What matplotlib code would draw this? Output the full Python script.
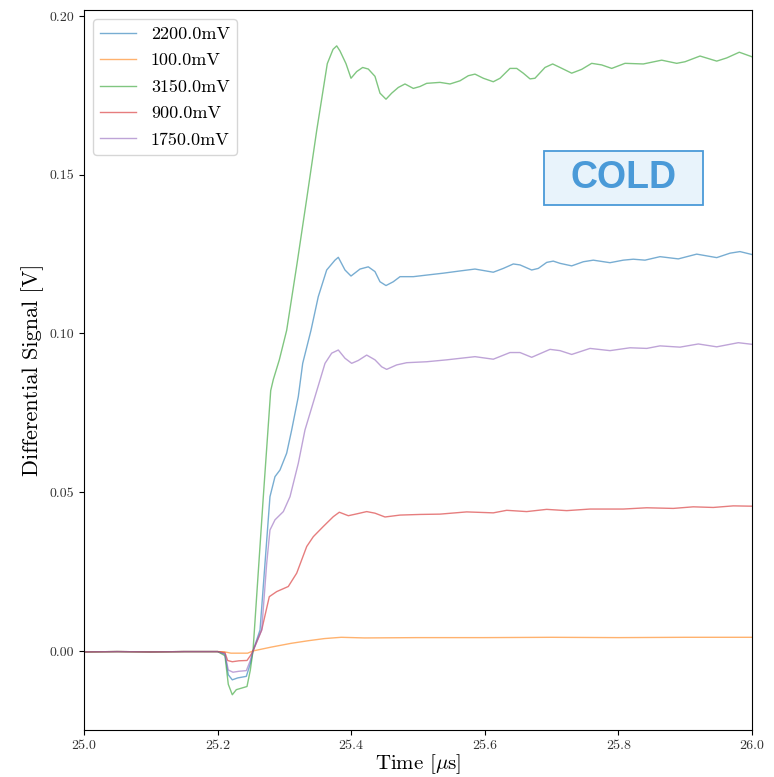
import matplotlib
matplotlib.use("Agg")
import matplotlib.pyplot as plt
from matplotlib.patches import Rectangle

plt.rcParams['font.family'] = 'serif'
plt.rcParams['font.serif'] = ['cmr10', 'DejaVu Serif']
plt.rcParams['mathtext.fontset'] = 'cm'
plt.rcParams['axes.formatter.use_mathtext'] = True

labels = ['2200.0mV', '100.0mV', '3150.0mV', '900.0mV', '1750.0mV']
colors = ['#1f77b4', '#ff7f0e', '#2ca02c', '#d62728', '#9467bd']

base_t = [25.0, 25.05, 25.1, 25.15, 25.2]
base_v = [-0.0003, -0.0002, -0.0003, -0.0002, -0.0002]

t_2200 = base_t + [25.211, 25.216, 25.222, 25.23, 25.243, 25.249, 25.253,
    25.2635, 25.271, 25.2784, 25.2859, 25.2934, 25.3034, 25.3109, 25.3208, 25.3274,
    25.3398, 25.3507, 25.3633, 25.3757, 25.3807, 25.3907, 25.3997, 25.4132, 25.4256,
    25.4356, 25.4431, 25.4521, 25.463, 25.4731, 25.493, 25.513, 25.5379, 25.5629,
    25.5853, 25.6127, 25.6277, 25.6427, 25.6527, 25.6702, 25.6801, 25.6927, 25.7025,
    25.7126, 25.7301, 25.7475, 25.7624, 25.7874, 25.8073, 25.8223, 25.8398, 25.8623,
    25.8897, 25.9172, 25.9472, 25.9671, 25.982, 25.9995]
v_2200 = base_v + [-0.001, -0.0075, -0.0091, -0.0085, -0.008, -0.004, 0.0,
    0.0066, 0.0277, 0.0486, 0.0549, 0.057, 0.0623, 0.0696, 0.0801, 0.0906,
    0.101, 0.1116, 0.12, 0.1231, 0.124, 0.12, 0.1181, 0.1203, 0.121,
    0.1195, 0.1163, 0.1151, 0.1163, 0.1179, 0.1179, 0.1184, 0.119, 0.1197,
    0.1203, 0.1193, 0.1205, 0.1219, 0.1216, 0.12, 0.1205, 0.1224, 0.1228,
    0.1221, 0.1213, 0.1226, 0.1231, 0.1223, 0.1231, 0.1234, 0.1231, 0.1242,
    0.1235, 0.125, 0.1239, 0.1253, 0.1258, 0.1249]

t_100 = base_t + [25.211, 25.22, 25.245, 25.253, 25.28, 25.31, 25.335, 25.36,
    25.385, 25.42, 25.5, 25.6, 25.7, 25.8, 25.9, 26.0]
v_100 = base_v + [-0.0003, -0.0007, -0.0007, 0.0, 0.0012, 0.0024, 0.0032, 0.0039,
    0.0043, 0.0041, 0.0042, 0.0042, 0.0043, 0.0042, 0.0043, 0.0043]

t_3150 = base_t + [25.211, 25.216, 25.222, 25.228, 25.236, 25.244, 25.249, 25.253,
    25.2684, 25.2795, 25.2834, 25.2924, 25.3034, 25.3189, 25.3338, 25.3484, 25.3642,
    25.3728, 25.3783, 25.3832, 25.3922, 25.3997, 25.4082, 25.4172, 25.4256, 25.4356,
    25.4431, 25.4521, 25.4606, 25.4705, 25.4805, 25.493, 25.503, 25.513, 25.5329,
    25.5479, 25.5629, 25.5753, 25.5853, 25.5978, 25.6127, 25.6228, 25.6377, 25.6478,
    25.6576, 25.6677, 25.6751, 25.6901, 25.7016, 25.7126, 25.7301, 25.745, 25.76,
    25.775, 25.79, 25.8099, 25.8373, 25.8648, 25.8873, 25.8997, 25.9222, 25.9472,
    25.9621, 25.981, 25.9995]
v_3150 = base_v + [-0.0015, -0.0105, -0.0138, -0.0122, -0.0117, -0.0112, -0.006, 0.0,
    0.0485, 0.082, 0.0855, 0.0917, 0.101, 0.122, 0.143, 0.164, 0.185,
    0.1895, 0.1906, 0.189, 0.185, 0.1804, 0.1825, 0.1838, 0.1833, 0.181,
    0.1757, 0.1738, 0.1757, 0.1775, 0.1786, 0.1772, 0.1778, 0.1788, 0.1791,
    0.1786, 0.1796, 0.1812, 0.1817, 0.1804, 0.1793, 0.1804, 0.1835, 0.1835,
    0.182, 0.1802, 0.1804, 0.1838, 0.1849, 0.1838, 0.182, 0.1832, 0.1851,
    0.1846, 0.1835, 0.1851, 0.1849, 0.1861, 0.1851, 0.1856, 0.1874, 0.1858,
    0.1868, 0.1886, 0.1872]

t_900 = base_t + [25.211, 25.215, 25.222, 25.232, 25.244, 25.249, 25.253,
    25.266, 25.2774, 25.2885, 25.3058, 25.3184, 25.3334, 25.3433, 25.3582, 25.3732,
    25.3822, 25.3957, 25.4087, 25.4232, 25.4356, 25.4506, 25.4731, 25.503, 25.5329,
    25.5729, 25.6127, 25.6328, 25.6627, 25.6926, 25.7226, 25.7575, 25.8073, 25.8424,
    25.8822, 25.9121, 25.942, 25.972, 25.9995]
v_900 = base_v + [-0.0005, -0.003, -0.0034, -0.0031, -0.003, -0.0015, 0.0,
    0.0066, 0.0171, 0.0187, 0.0203, 0.0245, 0.0329, 0.036, 0.0392, 0.0423,
    0.0437, 0.0426, 0.0432, 0.0439, 0.0434, 0.0422, 0.0428, 0.043, 0.0431,
    0.0438, 0.0435, 0.0443, 0.0439, 0.0446, 0.0442, 0.0447, 0.0447, 0.0451,
    0.0449, 0.0454, 0.0452, 0.0457, 0.0456]

t_1750 = base_t + [25.211, 25.216, 25.223, 25.232, 25.243, 25.249, 25.253,
    25.266, 25.2735, 25.2784, 25.2859, 25.2984, 25.3084, 25.3208, 25.3308, 25.3458,
    25.3608, 25.3708, 25.3807, 25.3907, 25.4007, 25.4106, 25.4232, 25.4356, 25.4457,
    25.4531, 25.4681, 25.4831, 25.513, 25.543, 25.5853, 25.6127, 25.6377, 25.6527,
    25.6702, 25.6976, 25.7126, 25.7301, 25.7575, 25.7874, 25.8174, 25.8424, 25.8623,
    25.8922, 25.9196, 25.9472, 25.9795, 25.9995]
v_1750 = base_v + [-0.001, -0.006, -0.0067, -0.0064, -0.0062, -0.003, 0.0,
    0.0066, 0.0276, 0.0381, 0.0413, 0.0439, 0.0486, 0.0591, 0.0696, 0.0801,
    0.0906, 0.0938, 0.0948, 0.0922, 0.0906, 0.0915, 0.0932, 0.0917, 0.0895,
    0.0887, 0.0901, 0.0908, 0.0911, 0.0917, 0.0927, 0.0919, 0.094, 0.094,
    0.0925, 0.095, 0.0946, 0.0934, 0.0953, 0.0946, 0.0955, 0.0953, 0.0961,
    0.0957, 0.0967, 0.0958, 0.0971, 0.0966]

series_t = [t_2200, t_100, t_3150, t_900, t_1750]
series_v = [v_2200, v_100, v_3150, v_900, v_1750]

fig = plt.figure(figsize=(7.74, 7.77), dpi=100)
ax = fig.add_axes([84/774, 47/777, 668/774, 720/777])

for t, v, lab, c in zip(series_t, series_v, labels, colors):
    ax.plot(t, v, color=c, lw=1.0, alpha=0.6, label=lab)

ax.set_xlim(25.0, 26.0)
ax.set_ylim(-0.0249, 0.2019)
ax.set_xticks([25.0, 25.2, 25.4, 25.6, 25.8, 26.0])
ax.set_yticks([0.0, 0.05, 0.10, 0.15, 0.20])
ax.set_xticklabels(['25.0', '25.2', '25.4', '25.6', '25.8', '26.0'])
ax.set_yticklabels(['0.00', '0.05', '0.10', '0.15', '0.20'])
ax.tick_params(labelsize=10, labelcolor='#333333')
ax.set_xlabel(r'Time [$\mu$s]', fontsize=15, labelpad=0)
ax.set_ylabel('Differential Signal [V]', fontsize=16, labelpad=4)

ax.legend(loc='upper left', fontsize=13, handlelength=2.0, labelspacing=0.6)

ax.add_patch(Rectangle((0.6886, 0.7292), 0.238, 0.075, transform=ax.transAxes,
                       facecolor='#e8f3fb', edgecolor='#4a9ad8', lw=1.3, zorder=5))
ax.text(0.8076, 0.7667, 'COLD', transform=ax.transAxes, ha='center', va='center',
        fontsize=27, fontweight='bold', color='#4a9ad8', family='Liberation Sans', zorder=6)

fig.savefig('out.png', dpi=100)
